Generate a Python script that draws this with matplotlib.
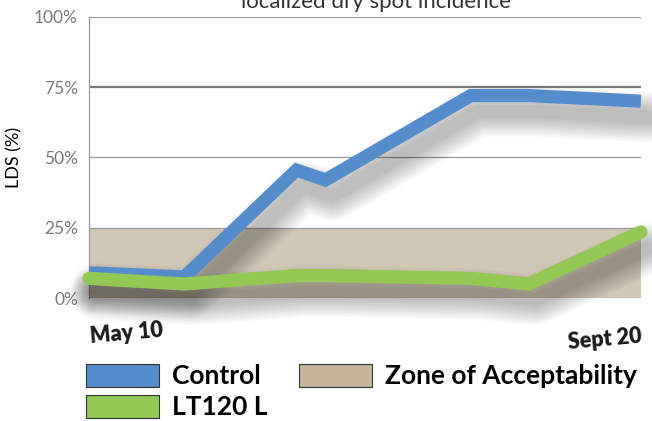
"""Localized dry spot incidence, Control vs LT120 L, with the zone of acceptability."""
from datetime import datetime

import matplotlib
matplotlib.use("Agg")
import matplotlib.pyplot as plt
import matplotlib.dates as mdates
from matplotlib.patches import Patch
from matplotlib.transforms import offset_copy

plt.rcParams["font.family"] = ["Lato", "DejaVu Sans"]

# sample dates (only first and last are labelled on the chart)
dates = [datetime(2015, 5, 10), datetime(2015, 6, 2), datetime(2015, 6, 29),
         datetime(2015, 7, 6), datetime(2015, 8, 10), datetime(2015, 8, 24),
         datetime(2015, 9, 20)]
control = [9, 7.5, 45.5, 42, 72, 72, 70]
lt120 = [7, 5, 8, 8, 7, 5, 23.5]
zone_top = 25
yticks = [0, 25, 50, 75, 100]
xlabels = ["May 10", "Sept 20"]

COLOR_CONTROL = "#558ccb"
COLOR_LT120 = "#92c853"
COLOR_ZONE = "#cfc6b5"
COLOR_ZONE_LEGEND = "#c4b59c"

fig = plt.figure(figsize=(6.52, 4.21), dpi=100)
ax = fig.add_axes([0.1365, 0.292, 0.8465, 0.668])

ax.set_xlim(dates[0], dates[-1])
ax.set_ylim(0, 100)

# zone of acceptability
ax.axhspan(0, zone_top, color=COLOR_ZONE, zorder=1, lw=0)

# gridlines
for v in yticks[1:]:
    lw, c = (1.6, "#7a7a7a") if v == 75 else (0.9, "#999999")
    ax.axhline(v, color=c, lw=lw, zorder=2)
ax.axhline(0, color="#999999", lw=0.9, zorder=2)

# soft drop shadows under the lines
lw = 9.5
shadow_tr = offset_copy(ax.transData, fig=fig, x=7, y=-16, units="dots")
for series in (control, lt120):
    for k in range(10):
        ax.plot(dates, series, color="black", alpha=0.028, lw=lw + 3 * k,
                solid_joinstyle="round", solid_capstyle="round",
                transform=shadow_tr, zorder=3, clip_on=False)

ax.plot(dates, control, color=COLOR_CONTROL, lw=lw, solid_joinstyle="miter",
        solid_capstyle="butt", zorder=4, clip_on=False)
ax.plot(dates, lt120, color=COLOR_LT120, lw=lw, solid_joinstyle="miter",
        solid_capstyle="round", zorder=5, clip_on=False)

for s in ("top", "right", "bottom"):
    ax.spines[s].set_visible(False)
ax.spines["left"].set_color("#999999")
ax.spines["left"].set_linewidth(0.9)

ax.set_yticks(yticks)
ax.set_yticklabels([f"{v}%" for v in yticks], color="#7a7a7a", fontsize=12.5)
ax.tick_params(axis="y", length=0, pad=8)
ax.set_ylabel("LDS (%)", fontsize=13, labelpad=8)

ax.set_xticks([mdates.date2num(dates[0]), mdates.date2num(dates[-1])])
ax.set_xticklabels(xlabels, fontsize=15.5, fontweight="heavy", rotation=5,
                   rotation_mode="anchor", color="#1a1a1a")
ax.tick_params(axis="x", length=0, pad=20)
tl = ax.get_xticklabels()
tl[0].set_ha("left")
tl[1].set_ha("right")

# title sits partly above the top edge, as in the source graphic
fig.text(376 / 652, 1 - 8 / 421, "localized dry spot incidence", ha="center",
         va="baseline", fontsize=16, color="#333333")

handles = [Patch(facecolor=COLOR_CONTROL, edgecolor="#333333", lw=0.8, label="Control"),
           Patch(facecolor=COLOR_LT120, edgecolor="#333333", lw=0.8, label="LT120 L"),
           Patch(facecolor=COLOR_ZONE_LEGEND, edgecolor="#333333", lw=0.8,
                 label="Zone of Acceptability")]
fig.legend(handles=handles, ncol=2, loc="upper left",
           bbox_to_anchor=(0.132, 0.136), frameon=False,
           prop={"size": 19, "weight": "bold"}, handlelength=2.75,
           handleheight=0.97, handletextpad=0.5, columnspacing=1.2,
           labelspacing=0.24, borderpad=0, borderaxespad=0)

fig.savefig("out.png", dpi=100)
